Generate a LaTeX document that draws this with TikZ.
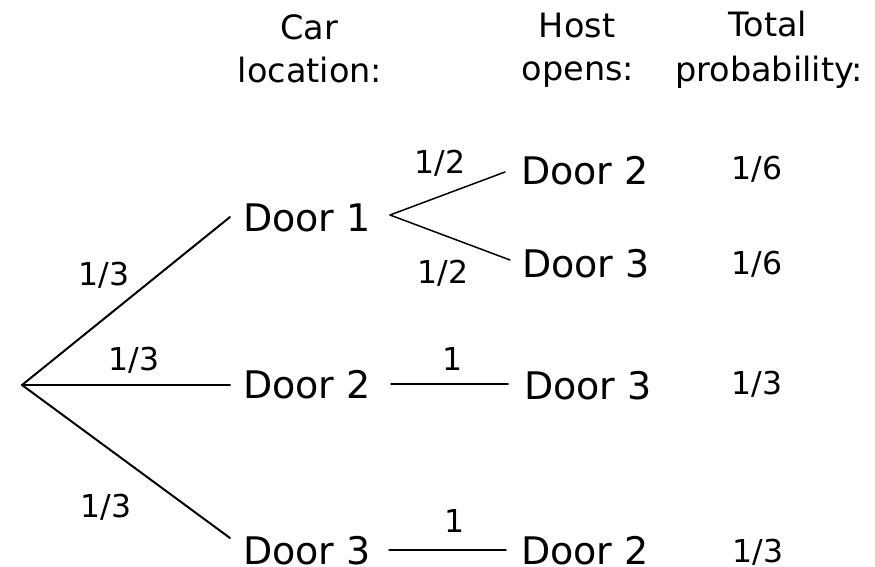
\documentclass[tikz,border=0pt]{standalone}
\usepackage{fontspec}
\setmainfont{DejaVu Sans}
\begin{document}
\begin{tikzpicture}[x=1pt,y=-1pt,
  door/.style={anchor=base west,inner sep=0pt,font=\fontsize{38}{40}\selectfont},
  head/.style={anchor=base,inner sep=0pt,font=\fontsize{33.5}{36}\selectfont},
  prob/.style={anchor=base,inner sep=0pt,font=\fontsize{31.5}{34}\selectfont},
  main/.style={line width=2pt,line cap=round},
  sub/.style={line width=1.5pt,line cap=round}]
\useasboundingbox (0,0) rectangle (875,567);
% headers
\node[head] (h1a) at (309,40) {Car};
\node[head] (h1b) at (310,83) {location:};
\node[head] (h2a) at (577,38) {Host};
\node[head] (h2b) at (578,81) {opens:};
\node[head] (h3a) at (768,37) {Total};
\node[head] (h3b) at (769,82) {probability:};
% first level
\coordinate (root) at (22,385);
\node[door] (d1) at (243,231) {Door 1};
\node[door] (d2) at (243,398) {Door 2};
\node[door] (d3) at (243,564) {Door 3};
\coordinate (e1) at (230,217);
\coordinate (e2) at (230,385);
\coordinate (e3) at (230,538);
\draw[main] (root) -- (e1);
\draw[main] (root) -- (e2);
\draw[main] (root) -- (e3);
\node[prob] (p1) at (104,285) {1/3};
\node[prob] (p2) at (134,370) {1/3};
\node[prob] (p3) at (106,517) {1/3};
% second level
\node[door] (d12) at (521,184) {Door 2};
\node[door] (d13) at (522,277) {Door 3};
\node[door] (d23) at (524,399) {Door 3};
\node[door] (d32) at (521,564) {Door 2};
\coordinate (s1) at (390,215);
\coordinate (t12) at (505,172);
\coordinate (t13) at (510,260);
\coordinate (s2) at (391,384);
\coordinate (t23) at (508,384);
\coordinate (s3) at (389,550);
\coordinate (t32) at (506,550);
\draw[sub] (s1) -- (t12);
\draw[sub] (s1) -- (t13);
\draw[sub] (s2) -- (t23);
\draw[sub] (s3) -- (t32);
\node[prob] (q1) at (440,173) {1/2};
\node[prob] (q2) at (443,283) {1/2};
\node[prob] (q3) at (453,370) {1};
\node[prob] (q4) at (455,532) {1};
% totals
\node[prob] (r1) at (757,179) {1/6};
\node[prob] (r2) at (757,274) {1/6};
\node[prob] (r3) at (757,394) {1/3};
\node[prob] (r4) at (758,562) {1/3};
\end{tikzpicture}
\end{document}
